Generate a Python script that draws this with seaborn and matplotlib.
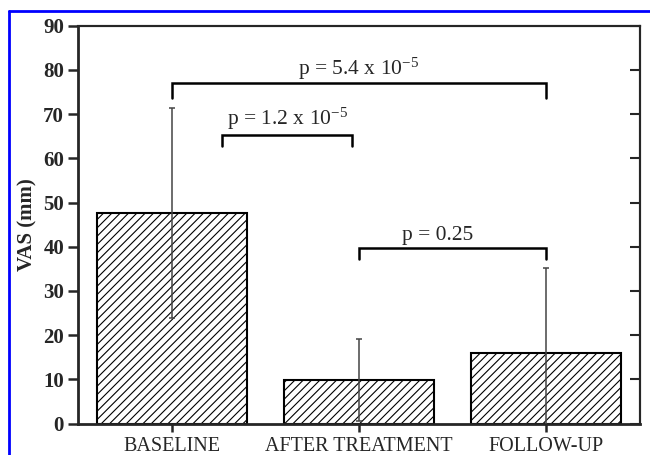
import numpy as np
import pandas as pd
import seaborn as sns
import matplotlib
matplotlib.use("Agg")
import matplotlib.pyplot as plt
from matplotlib.lines import Line2D

# values
groups = ["BASELINE", "AFTER TREATMENT", "FOLLOW-UP"]
vas_mean = [47.6, 9.9, 15.9]
vas_sd = [23.7, 9.3, 19.3]

# pairwise comparisons: (left group pos, right group pos, label)
comp_left = [0, 0.27, 1.0]
comp_right = [2, 0.965, 2]
comp_labels = [r"p = 5.4 x 10$^{-5}$", r"p = 1.2 x 10$^{-5}$", "p = 0.25"]

sns.set_style("ticks")
plt.rcParams["font.family"] = ["Liberation Serif", "DejaVu Serif"]
plt.rcParams["mathtext.fontset"] = "custom"
plt.rcParams["mathtext.rm"] = "Liberation Serif"
plt.rcParams["mathtext.it"] = "Liberation Serif:italic"
plt.rcParams["hatch.linewidth"] = 0.8
plt.rcParams["hatch.color"] = "#3a3a3a"

df = pd.DataFrame({"group": groups, "vas": vas_mean})

fig = plt.figure(figsize=(6.5, 4.55), dpi=100)
ax = fig.add_axes([0.12, 0.069, 0.8646, 0.8744])

sns.barplot(data=df, x="group", y="vas", color="white", edgecolor="black",
            linewidth=1.5, width=0.8, errorbar=None, ax=ax)
for p in ax.patches:
    p.set_hatch("////")
    p.set_facecolor("white")

# sd whiskers
xpos = np.arange(len(groups))
ax.errorbar(xpos, vas_mean, yerr=vas_sd, fmt="none", ecolor="#444444",
            elinewidth=1.1, capsize=2, capthick=1.1, zorder=3)

# significance brackets
bar_y = [77.0, 65.3, 39.7]
drop = [3.3, 2.5, 2.5]
text_x = [1.0, 0.62, 1.42]
text_y = [79.0, 67.6, 41.6]
for i in range(len(comp_labels)):
    x0, x1 = comp_left[i], comp_right[i]
    y = bar_y[i]
    ax.plot([x0, x0, x1, x1], [y - drop[i], y, y, y - drop[i]],
            color="black", lw=1.8, solid_joinstyle="miter", clip_on=False)
    ax.text(text_x[i], text_y[i], comp_labels[i], ha="center", va="baseline",
            fontsize=15.5)

ax.set_xlim(-0.5, 2.5)
ax.set_ylim(0, 90)
ax.set_yticks(range(0, 91, 10))
ax.set_xlabel("")
ax.set_ylabel("VAS (mm)", fontsize=15, fontweight="bold", labelpad=4)

for lab in ax.get_yticklabels():
    lab.set_fontweight("bold")
ax.tick_params(axis="y", labelsize=15, direction="out", length=7, width=1.8,
               pad=3, right=True)
ax.tick_params(axis="x", labelsize=14.5, direction="out", length=6, width=1.8,
               pad=4)

# right axis ticks point inward
ax2 = ax.twinx()
ax2.set_ylim(0, 90)
ax2.set_yticks(range(0, 91, 10))
ax2.tick_params(axis="y", direction="in", length=7, width=1.5, labelright=False)
ax.tick_params(axis="y", right=False)
for sp in ["left", "bottom"]:
    ax.spines[sp].set_linewidth(2.0)
for sp in ["top", "right"]:
    ax.spines[sp].set_visible(True)
    ax.spines[sp].set_linewidth(1.5)
    ax2.spines[sp].set_linewidth(1.5)
ax2.spines["left"].set_visible(False)
ax2.spines["bottom"].set_visible(False)

# blue selection frame around the clipping
fig.add_artist(Line2D([0.0138, 0.0138], [0, 0.9758], color="#0000ff", lw=2,
                      transform=fig.transFigure))
fig.add_artist(Line2D([0.0138, 1.0], [0.9758, 0.9758], color="#0000ff", lw=2,
                      transform=fig.transFigure))

fig.savefig("out.png", dpi=100)
plt.close(fig)
